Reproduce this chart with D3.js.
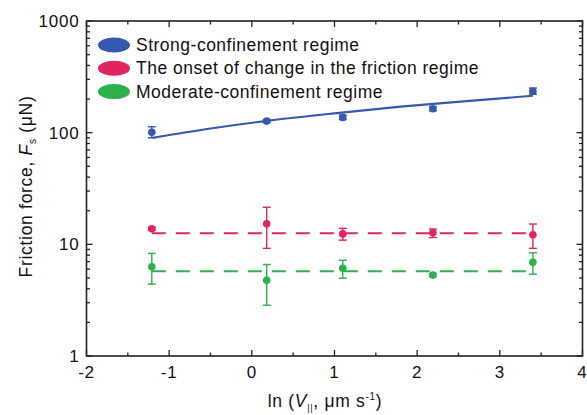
<!DOCTYPE html>
<html>
<head>
<meta charset="utf-8">
<script src="https://cdn.jsdelivr.net/npm/d3@7"></script>
<style>
  body { margin: 0; background: #fff; }
  text { font-family: "Liberation Sans", Arial, sans-serif; }
</style>
</head>
<body>
<svg id="chart" width="587" height="415"></svg>
<script>
// data
const lnV = [-1.21, 0.18, 1.10, 2.19, 3.40];

const strongF = [101, 127, 137, 164, 235];
const strongLo = [90, 123, 131, 157, 221];
const strongHi = [113, 131, 143, 171, 251];

const onsetF = [13.8, 15.3, 12.4, 12.7, 12.2];
const onsetLo = [13.4, 9.2, 10.9, 11.5, 9.2];
const onsetHi = [14.2, 21.5, 13.9, 13.7, 15.2];

const moderateF = [6.3, 4.77, 6.1, 5.3, 6.9];
const moderateLo = [4.4, 2.85, 4.97, 5.15, 5.4];
const moderateHi = [8.3, 6.6, 7.2, 5.45, 8.4];

// fitted curve of the strong regime, read at a few points
const fitX = [-1.2, -0.5, 0.2, 1.0, 1.8, 2.6, 3.4];
const fitF = [90, 109, 128, 149, 171, 192, 214];

const onsetMean = 12.6;
const moderateMean = 5.74;

const xTicks = [-2, -1, 0, 1, 2, 3, 4];
const yTicks = [1, 10, 100, 1000];

const series = [
  { name: "Strong-confinement regime", color: "#3558b0", f: strongF, lo: strongLo, hi: strongHi },
  { name: "The onset of change in the friction regime", color: "#e0245e", f: onsetF, lo: onsetLo, hi: onsetHi },
  { name: "Moderate-confinement regime", color: "#2bb24c", f: moderateF, lo: moderateLo, hi: moderateHi }
];

const pLeft = 86.5, pRight = 582.5, pTop = 21, pBottom = 356;
const svg = d3.select("#chart");

const x = d3.scaleLinear().domain([-2, 4]).range([pLeft, pRight]);
const y = d3.scaleLog().domain([1, 1000]).range([pBottom, pTop]);

// minor ticks
const xMinor = d3.range(-2, 4.01, 0.5);
const yMinor = [];
[1, 10, 100].forEach(d => { for (let k = 2; k <= 9; k++) yMinor.push(d * k); });

const axisG = svg.append("g").attr("stroke", "#222").attr("stroke-width", 1.3);

function ticksX(yPos, dir) {
  xMinor.forEach(v => {
    const major = Number.isInteger(v);
    axisG.append("line")
      .attr("x1", x(v)).attr("x2", x(v))
      .attr("y1", yPos).attr("y2", yPos + dir * (major ? 6 : 3.5));
  });
}
function ticksY(xPos, dir) {
  yTicks.forEach(v => axisG.append("line")
    .attr("x1", xPos).attr("x2", xPos + dir * 6).attr("y1", y(v)).attr("y2", y(v)));
  yMinor.forEach(v => axisG.append("line")
    .attr("x1", xPos).attr("x2", xPos + dir * 3.5).attr("y1", y(v)).attr("y2", y(v)));
}
ticksX(pBottom, -1);
ticksX(pTop, 1);
ticksY(pLeft, 1);
ticksY(pRight, -1);

axisG.append("rect")
  .attr("x", pLeft).attr("y", pTop)
  .attr("width", pRight - pLeft).attr("height", pBottom - pTop)
  .attr("fill", "none").attr("stroke-width", 1.6);

// tick labels
svg.append("g").selectAll("text").data(xTicks).join("text")
  .attr("x", d => x(d)).attr("y", pBottom + 22)
  .attr("text-anchor", "middle").attr("font-size", 17).attr("letter-spacing", 0.8).attr("fill", "#111")
  .text(d => d);

svg.append("g").selectAll("text").data(yTicks).join("text")
  .attr("x", pLeft - 7).attr("y", d => y(d) + 6)
  .attr("text-anchor", "end").attr("font-size", 17).attr("letter-spacing", 0.8).attr("fill", "#111")
  .text(d => d);

// axis titles
const yt = svg.append("text")
  .attr("transform", `translate(32,${(pTop + pBottom) / 2 - 2}) rotate(-90)`)
  .attr("text-anchor", "middle").attr("font-size", 17.5).attr("letter-spacing", 0.7).attr("fill", "#111");
yt.append("tspan").text("Friction force, ");
yt.append("tspan").attr("font-style", "italic").text("F");
yt.append("tspan").attr("font-size", 10).attr("dy", 4).text("s");
yt.append("tspan").attr("dy", -4).text(" (\u03bcN)");

const xt = svg.append("text")
  .attr("x", 325).attr("y", 407)
  .attr("text-anchor", "middle").attr("font-size", 17.5).attr("letter-spacing", 0.7).attr("fill", "#111");
xt.append("tspan").text("ln (");
xt.append("tspan").attr("font-style", "italic").text("V");
xt.append("tspan").attr("font-size", 9).attr("dy", 4).text("||");
xt.append("tspan").attr("dy", -4).text(", \u03bcm s");
xt.append("tspan").attr("font-size", 10).attr("dy", -7).text("-1");
xt.append("tspan").attr("dy", 7).text(")");

// fits
svg.append("path")
  .datum(fitX.map((v, i) => [v, fitF[i]]))
  .attr("fill", "none").attr("stroke", series[0].color).attr("stroke-width", 2.2)
  .attr("d", d3.line().x(d => x(d[0])).y(d => y(d[1])).curve(d3.curveMonotoneX));

[[onsetMean, series[1].color], [moderateMean, series[2].color]].forEach(([m, c]) => {
  svg.append("line")
    .attr("x1", x(lnV[0])).attr("x2", x(lnV[4]))
    .attr("y1", y(m)).attr("y2", y(m))
    .attr("stroke", c).attr("stroke-width", 2)
    .attr("stroke-dasharray", "14,10");
});

// error bars and points
series.forEach(s => {
  const g = svg.append("g").attr("stroke", s.color).attr("fill", s.color);
  lnV.forEach((v, i) => {
    const cx = x(v);
    g.append("line").attr("x1", cx).attr("x2", cx)
      .attr("y1", y(s.lo[i])).attr("y2", y(s.hi[i])).attr("stroke-width", 1.4);
    [s.lo[i], s.hi[i]].forEach(e => g.append("line")
      .attr("x1", cx - 4).attr("x2", cx + 4)
      .attr("y1", y(e)).attr("y2", y(e)).attr("stroke-width", 1.4));
    g.append("circle").attr("cx", cx).attr("cy", y(s.f[i])).attr("r", 3.8).attr("stroke", "none");
  });
});

// legend
const leg = svg.append("g");
series.forEach((s, i) => {
  const ly = 45 + i * 23.3;
  leg.append("ellipse").attr("cx", 114).attr("cy", ly)
    .attr("rx", 16).attr("ry", 7.5).attr("fill", s.color);
  leg.append("text").attr("x", 136).attr("y", ly + 6)
    .attr("font-size", 17.5).attr("letter-spacing", 0.5).attr("fill", "#111").text(s.name);
});
</script>
</body>
</html>
